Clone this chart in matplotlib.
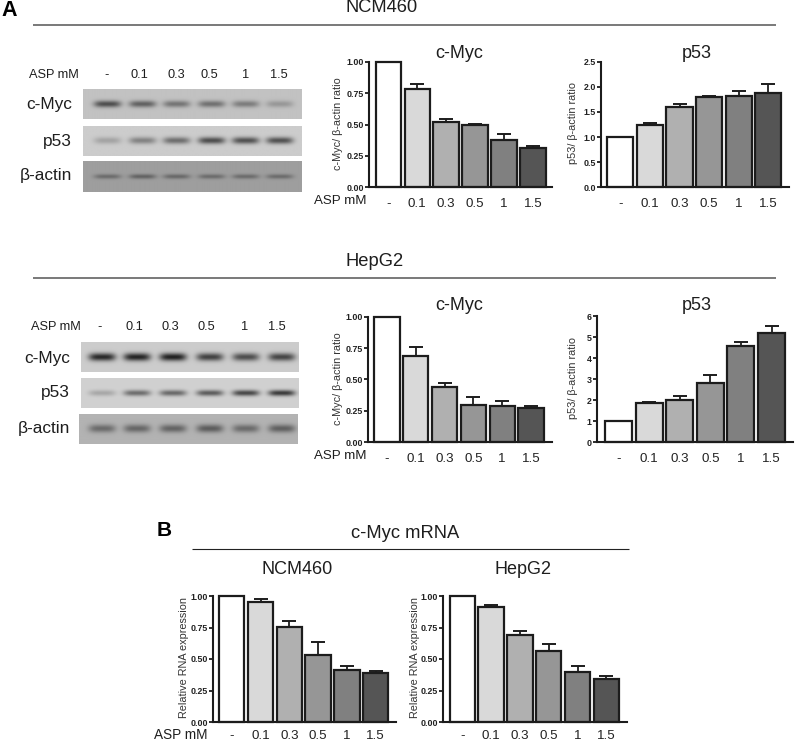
import numpy as np
import matplotlib
matplotlib.use("Agg")
import matplotlib.pyplot as plt

plt.rcParams['font.family'] = ['Liberation Sans', 'DejaVu Sans']

W, H = 799, 742

doses = ['-', '0.1', '0.3', '0.5', '1', '1.5']
bar_colors = ['#ffffff', '#d9d9d9', '#b0b0b0', '#969696', '#808080', '#555555']

ncm_myc = [1.00, 0.78, 0.52, 0.50, 0.375, 0.31]
ncm_myc_err = [0, 0.045, 0.02, 0.005, 0.05, 0.02]
ncm_p53 = [1.00, 1.25, 1.60, 1.79, 1.82, 1.88]
ncm_p53_err = [0, 0.03, 0.05, 0.03, 0.10, 0.17]
hep_myc = [1.00, 0.69, 0.44, 0.30, 0.29, 0.27]
hep_myc_err = [0, 0.07, 0.03, 0.06, 0.04, 0.02]
hep_p53 = [1.00, 1.86, 2.00, 2.83, 4.57, 5.20]
hep_p53_err = [0, 0.06, 0.22, 0.35, 0.18, 0.33]
rna_ncm = [1.00, 0.95, 0.755, 0.535, 0.415, 0.39]
rna_ncm_err = [0, 0.03, 0.045, 0.10, 0.03, 0.015]
rna_hep = [1.00, 0.91, 0.69, 0.56, 0.40, 0.34]
rna_hep_err = [0, 0.015, 0.035, 0.06, 0.045, 0.025]

myc_ticks = [0, 0.25, 0.5, 0.75, 1.0]
myc_ticklabels = ['0.00', '0.25', '0.50', '0.75', '1.00']
p53a_ticks = [0, 0.5, 1.0, 1.5, 2.0, 2.5]
p53a_ticklabels = ['0.0', '0.5', '1.0', '1.5', '2.0', '2.5']
p53b_ticks = [0, 1, 2, 3, 4, 5, 6]
p53b_ticklabels = ['0', '1', '2', '3', '4', '5', '6']

# Western-blot band strengths (0-1 darkness, per lane), read by eye
ncm_blot_myc = [0.60, 0.50, 0.40, 0.42, 0.36, 0.22]
ncm_blot_p53 = [0.20, 0.36, 0.46, 0.62, 0.60, 0.60]
ncm_blot_act = [0.32, 0.38, 0.34, 0.32, 0.32, 0.32]
hep_blot_myc = [0.80, 0.82, 0.84, 0.68, 0.62, 0.66]
hep_blot_p53 = [0.20, 0.48, 0.50, 0.56, 0.66, 0.72]
hep_blot_act = [0.40, 0.42, 0.44, 0.48, 0.40, 0.46]

fig = plt.figure(figsize=(W / 100, H / 100), dpi=100, facecolor='white')


def px_axes(x0, x1, y_top, y_bot, **kw):
    return fig.add_axes([x0 / W, 1 - y_bot / H, (x1 - x0) / W, (y_bot - y_top) / H], **kw)


def bar_panel(x0, x1, y_top, y_bot, first, last, vals, errs, ymax, ticks, ticklabels,
              ylabel, label_x, lab_size=7.8, lab_pad=8):
    ax = px_axes(x0, x1, y_top, y_bot)
    step = (last - first) / 5
    ax.set_xlim((x0 - first) / step, (x1 - first) / step)
    ax.set_ylim(0, ymax)
    xs = np.arange(len(vals))
    ax.bar(xs, vals, width=0.88, color=bar_colors, edgecolor='#1c1c1c', linewidth=1.6,
           clip_on=False, zorder=2)
    for xi, v, e in zip(xs, vals, errs):
        if e > 0:
            ax.errorbar(xi, v, yerr=[[0], [e]], color='#1c1c1c', elinewidth=1.3, capsize=5,
                        capthick=1.4, zorder=1, clip_on=False)
    for s in ('top', 'right'):
        ax.spines[s].set_visible(False)
    for s in ('left', 'bottom'):
        ax.spines[s].set_linewidth(1.5)
        ax.spines[s].set_color('#1c1c1c')
    ax.set_xticks(xs)
    ax.set_xticklabels(doses, fontsize=9.6, color='#222222')
    ax.tick_params(axis='x', length=0, pad=lab_pad)
    ax.set_yticks(ticks)
    ax.set_yticklabels(ticklabels, fontsize=6.4, fontweight='bold', color='#222222')
    ax.tick_params(axis='y', length=3, width=1.3, pad=0.5, color='#1c1c1c')
    ax.set_ylabel(ylabel, fontsize=lab_size, color='#333333')
    ax.yaxis.set_label_coords((label_x + 6 - x0) / (x1 - x0), 0.51)
    ax.patch.set_alpha(0)
    return ax


def blot(x0, x1, y_top, y_bot, lane_x, strengths, bg, thick=3.4):
    ax = px_axes(x0, x1, y_top, y_bot)
    nx, ny = int((x1 - x0) * 2), int((y_bot - y_top) * 2)
    gx = np.linspace(x0, x1, nx)
    gy = np.linspace(y_top, y_bot, ny)
    X, Y = np.meshgrid(gx, gy)
    img = np.full(X.shape, bg, dtype=float)
    mid = (y_top + y_bot) / 2
    for cx, s in zip(lane_x, strengths):
        img -= s * np.exp(-((X - cx) / 13.5) ** 4) * np.exp(-((Y - mid) / thick) ** 2) * bg
    ax.imshow(np.clip(img, 0, 1), cmap='gray', vmin=0, vmax=1, aspect='auto', interpolation='bilinear')
    ax.axis('off')


# Blots
ncm_lanes = [107, 142, 176, 211, 245, 279]
hep_lanes = [102, 137, 173, 210, 246, 282]
blot(82.7, 301, 89, 119, ncm_lanes, ncm_blot_myc, 0.76)
blot(82.7, 301, 125.7, 156, ncm_lanes, ncm_blot_p53, 0.80)
blot(82.7, 301, 161, 192, ncm_lanes, ncm_blot_act, 0.62, thick=2.4)
blot(81, 299, 341.7, 371.7, hep_lanes, hep_blot_myc, 0.80, thick=4.0)
blot(81, 299, 377.7, 407.7, hep_lanes, hep_blot_p53, 0.82, thick=3.0)
blot(79, 298, 413.7, 444, hep_lanes, hep_blot_act, 0.70, thick=4.0)

# Bar panels
bar_panel(369, 551.7, 61.7, 187.3, 388.3, 533, ncm_myc, ncm_myc_err, 1.0, myc_ticks, myc_ticklabels,
          'c-Myc/ β-actin ratio', 337)
bar_panel(601, 789.3, 61.7, 187.3, 620.3, 768.3, ncm_p53, ncm_p53_err, 2.5, p53a_ticks, p53a_ticklabels,
          'p53/ β-actin ratio', 572)
bar_panel(367.7, 551.7, 316.7, 442.3, 387, 531, hep_myc, hep_myc_err, 1.0, myc_ticks, myc_ticklabels,
          'c-Myc/ β-actin ratio', 337)
bar_panel(596.7, 793, 316, 442.3, 618.7, 771.5, hep_p53, hep_p53_err, 6, p53b_ticks, p53b_ticklabels,
          'p53/ β-actin ratio', 572)
bar_panel(212.7, 396, 596, 722, 231.7, 375.8, rna_ncm, rna_ncm_err, 1.0, myc_ticks, myc_ticklabels,
          'Relative RNA expression', 183, lab_pad=5.5)
bar_panel(442.7, 626.7, 596, 722, 462.3, 606.3, rna_hep, rna_hep_err, 1.0, myc_ticks, myc_ticklabels,
          'Relative RNA expression', 414, lab_pad=5.5)

# Overlay in pixel coordinates
ov = fig.add_axes([0, 0, 1, 1])
ov.set_xlim(0, W)
ov.set_ylim(H, 0)
ov.axis('off')
ov.patch.set_alpha(0)


def t(x, y, s, size, ha='center', **kw):
    kw.setdefault('color', '#1e1e1e')
    ov.text(x, y, s, fontsize=size, ha=ha, va='center', **kw)


t(1, 11, 'A', 15.5, ha='left', fontweight='bold', color='black')
t(157, 531, 'B', 15, ha='left', fontweight='bold', color='black')

for x0, x1, y, c, lw in [(33, 776, 25, '#6e6e6e', 1.3), (33, 776, 278, '#6e6e6e', 1.3),
                         (192, 629, 549, '#222222', 0.8)]:
    ov.plot([x0, x1], [y, y], color=c, lw=lw, solid_capstyle='butt')

t(381.5, 7, 'NCM460', 13.2)
t(375, 262, 'HepG2', 13.2)
t(405, 534, 'c-Myc mRNA', 13.2)

t(459, 53, 'c-Myc', 13)
t(697, 53, 'p53', 13)
t(459, 305, 'c-Myc', 13)
t(697, 305, 'p53', 13)
t(297, 569, 'NCM460', 13)
t(523, 569, 'HepG2', 13)

t(366, 201, 'ASP mM', 9.6, ha='right')
t(366, 456, 'ASP mM', 9.6, ha='right')
t(207, 735, 'ASP mM', 9.8, ha='right')

t(78.5, 75.5, 'ASP mM', 9.2, ha='right')
t(81, 327.5, 'ASP mM', 9.2, ha='right')
for lab, x in zip(doses, [107, 139, 176, 209, 246, 279]):
    t(x, 75.5, lab, 9.2)
for lab, x in zip(doses, [100, 134, 170, 206, 245, 277]):
    t(x, 327.5, lab, 9.2)

for y, lab in [(105, 'c-Myc'), (141.5, 'p53'), (175.5, 'β-actin')]:
    t(72, y, lab, 12.4, ha='right')
for y, lab in [(358, 'c-Myc'), (393, 'p53'), (429, 'β-actin')]:
    t(70, y, lab, 12.4, ha='right')

fig.savefig('out.png', dpi=100)
